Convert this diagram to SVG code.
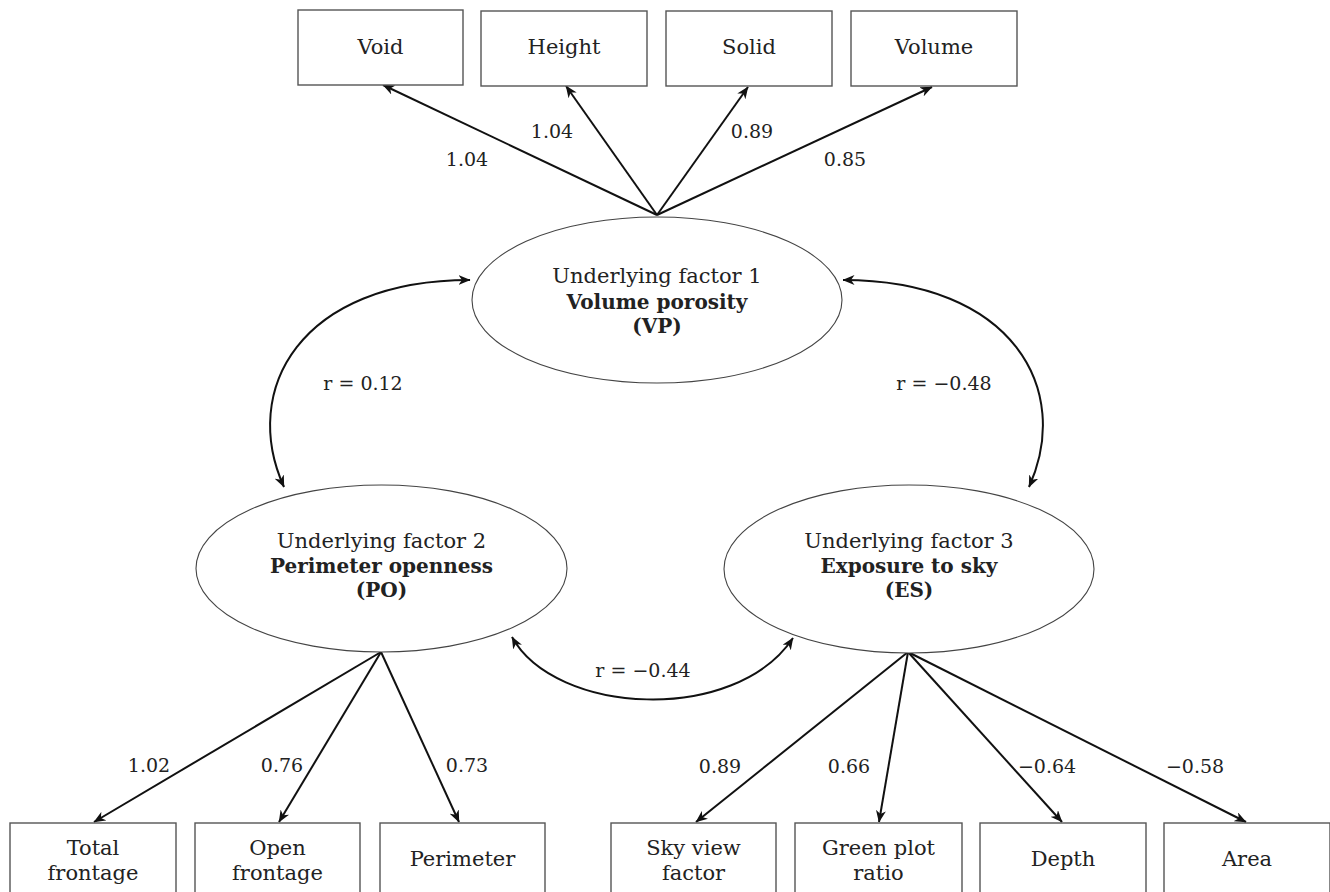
<svg xmlns="http://www.w3.org/2000/svg" width="1330" height="892" viewBox="0 0 1330 892">
<style>
.box{fill:#fff;stroke:#555;stroke-width:1.4}
.ell{fill:#fff;stroke:#444;stroke-width:1.1}
.t{font-family:"DejaVu Serif","Liberation Serif",serif;font-size:21px;fill:#222;text-anchor:middle}
.b{font-weight:bold;font-size:20px}
.n{font-family:"DejaVu Serif","Liberation Serif",serif;font-size:19px;fill:#222;text-anchor:middle}
.ar{fill:none;stroke:#111;stroke-width:2;marker-end:url(#ah)}
.dbl{fill:none;stroke:#111;stroke-width:2;marker-start:url(#ah);marker-end:url(#ah)}
</style>
<defs>
<marker id="ah" viewBox="0 0 12 10" refX="11.5" refY="5" markerWidth="12" markerHeight="10" markerUnits="userSpaceOnUse" orient="auto-start-reverse">
<path d="M0,0 L12,5 L0,10 L3.5,5 z" fill="#111"/>
</marker>
</defs>
<rect width="1330" height="892" fill="#fff"/>
<g id="connectors">
<line class="ar" x1="657" y1="215" x2="383" y2="85"/>
<line class="ar" x1="657" y1="215" x2="566" y2="86"/>
<line class="ar" x1="657" y1="215" x2="748" y2="87"/>
<line class="ar" x1="657" y1="215" x2="932" y2="87"/>
<line class="ar" x1="381" y1="652" x2="94" y2="822"/>
<line class="ar" x1="381" y1="652" x2="279" y2="822"/>
<line class="ar" x1="381" y1="652" x2="459" y2="822"/>
<line class="ar" x1="908" y1="652" x2="696" y2="822"/>
<line class="ar" x1="908" y1="652" x2="879" y2="822"/>
<line class="ar" x1="908" y1="652" x2="1062" y2="822"/>
<line class="ar" x1="908" y1="652" x2="1246" y2="822"/>
<path class="dbl" d="M470,280 C300,280 240,390 284,487"/>
<path class="dbl" d="M843,280 C1013,280 1073,390 1029,487"/>
<path class="dbl" d="M512,637 C555,715 735,725 793,638"/>
<text class="n" x="467" y="166">1.04</text>
<text class="n" x="552" y="138">1.04</text>
<text class="n" x="752" y="138">0.89</text>
<text class="n" x="845" y="166">0.85</text>
<text class="n" x="363" y="390">r = 0.12</text>
<text class="n" x="944" y="390">r = −0.48</text>
<text class="n" x="643" y="677">r = −0.44</text>
<text class="n" x="149" y="772">1.02</text>
<text class="n" x="282" y="772">0.76</text>
<text class="n" x="467" y="772">0.73</text>
<text class="n" x="720" y="773">0.89</text>
<text class="n" x="849" y="773">0.66</text>
<text class="n" x="1047" y="773">−0.64</text>
<text class="n" x="1195" y="773">−0.58</text>
</g>
<g id="void"><rect class="box" x="298" y="10" width="165" height="75"/><text class="t" x="380.5" y="54">Void</text></g>
<g id="height"><rect class="box" x="481" y="11" width="166" height="75"/><text class="t" x="564" y="54">Height</text></g>
<g id="solid"><rect class="box" x="666" y="11" width="166" height="75"/><text class="t" x="749" y="54">Solid</text></g>
<g id="volume"><rect class="box" x="851" y="11" width="166" height="75"/><text class="t" x="934" y="54">Volume</text></g>
<g id="vp"><ellipse class="ell" cx="657" cy="300" rx="185" ry="83"/>
<text class="t" x="657" y="283">Underlying factor 1</text>
<text class="t b" x="657" y="309">Volume porosity</text>
<text class="t b" x="657" y="333">(VP)</text></g>
<g id="po"><ellipse class="ell" cx="381.5" cy="568.5" rx="185.5" ry="83.5"/>
<text class="t" x="381.5" y="548">Underlying factor 2</text>
<text class="t b" x="381.5" y="573">Perimeter openness</text>
<text class="t b" x="381.5" y="597">(PO)</text></g>
<g id="es"><ellipse class="ell" cx="909" cy="569" rx="185" ry="84"/>
<text class="t" x="909" y="548">Underlying factor 3</text>
<text class="t b" x="909" y="573">Exposure to sky</text>
<text class="t b" x="909" y="597">(ES)</text></g>
<g id="total_frontage"><rect class="box" x="10" y="823" width="166" height="80"/><text class="t" x="93" y="855">Total</text><text class="t" x="93" y="880">frontage</text></g>
<g id="open_frontage"><rect class="box" x="195" y="823" width="165" height="80"/><text class="t" x="277.5" y="855">Open</text><text class="t" x="277.5" y="880">frontage</text></g>
<g id="perimeter"><rect class="box" x="380" y="823" width="165" height="80"/><text class="t" x="462.5" y="866">Perimeter</text></g>
<g id="sky_view_factor"><rect class="box" x="611" y="823" width="165" height="80"/><text class="t" x="693.5" y="855">Sky view</text><text class="t" x="693.5" y="880">factor</text></g>
<g id="green_plot_ratio"><rect class="box" x="795" y="823" width="167" height="80"/><text class="t" x="878.5" y="855">Green plot</text><text class="t" x="878.5" y="880">ratio</text></g>
<g id="depth"><rect class="box" x="980" y="823" width="166" height="80"/><text class="t" x="1063" y="866">Depth</text></g>
<g id="area"><rect class="box" x="1164" y="823" width="166" height="80"/><text class="t" x="1247" y="866">Area</text></g>
</svg>
